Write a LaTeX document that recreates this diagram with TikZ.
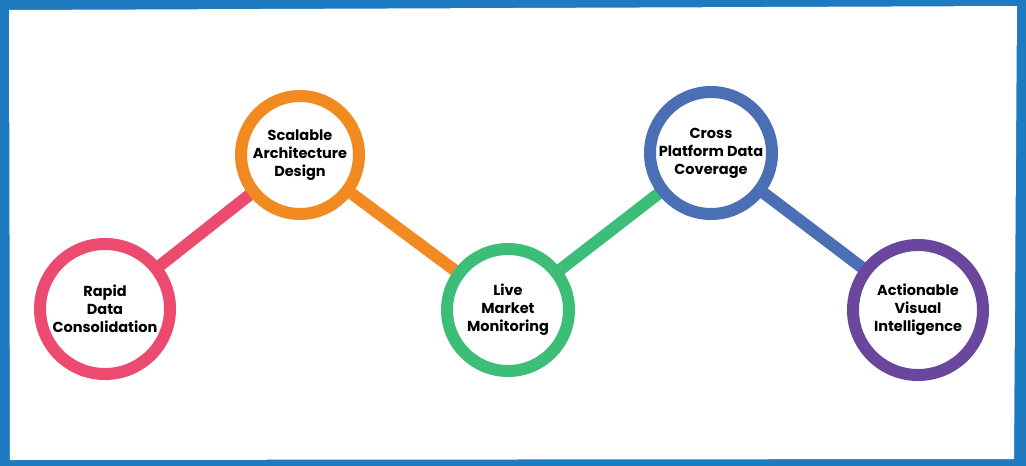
\documentclass[tikz,border=0pt]{standalone}
\usepackage{fontspec}
\setmainfont{Poppins}
\definecolor{bd}{HTML}{1F7BC1}
\definecolor{cp}{HTML}{EC4A6E}
\definecolor{co}{HTML}{F28A22}
\definecolor{cg}{HTML}{3DBE78}
\definecolor{cb}{HTML}{4A6FB5}
\definecolor{cv}{HTML}{6A479D}
\begin{document}
\begin{tikzpicture}[x=1pt,y=-1pt,
  ring/.style={circle,draw=#1,line width=12pt,fill=white,inner sep=0pt,align=center,font=\bfseries\fontsize{14.5}{18}\selectfont},
  link/.style={draw=#1,line width=12pt}]
\fill[bd] (0,0) rectangle (1026,466);
\fill[white] (9,10) -- (1017,6) -- (1014,459) -- (10,460) -- cycle;
\useasboundingbox (0,0) rectangle (1026,466);
\coordinate (a) at (105,309);
\coordinate (b) at (300,155);
\coordinate (c) at (508,310);
\coordinate (d) at (711,153);
\coordinate (e) at (918,310);
\draw[link=cp] (a) -- (b);
\draw[link=co] (b) -- (c);
\draw[link=cg] (c) -- (d);
\draw[link=cb] (d) -- (e);
\node[ring=cp,minimum size=130pt] (na) at (a) {Rapid\\Data\\Consolidation};
\node[ring=co,minimum size=118pt] (nb) at (b) {Scalable\\Architecture\\Design};
\node[ring=cg,minimum size=122pt] (nc) at (c) {Live\\Market\\Monitoring};
\node[ring=cb,minimum size=122pt] (nd) at (d) {Cross\\Platform Data\\Coverage};
\node[ring=cv,minimum size=130pt] (ne) at (e) {Actionable\\Visual\\Intelligence};
\end{tikzpicture}
\end{document}
